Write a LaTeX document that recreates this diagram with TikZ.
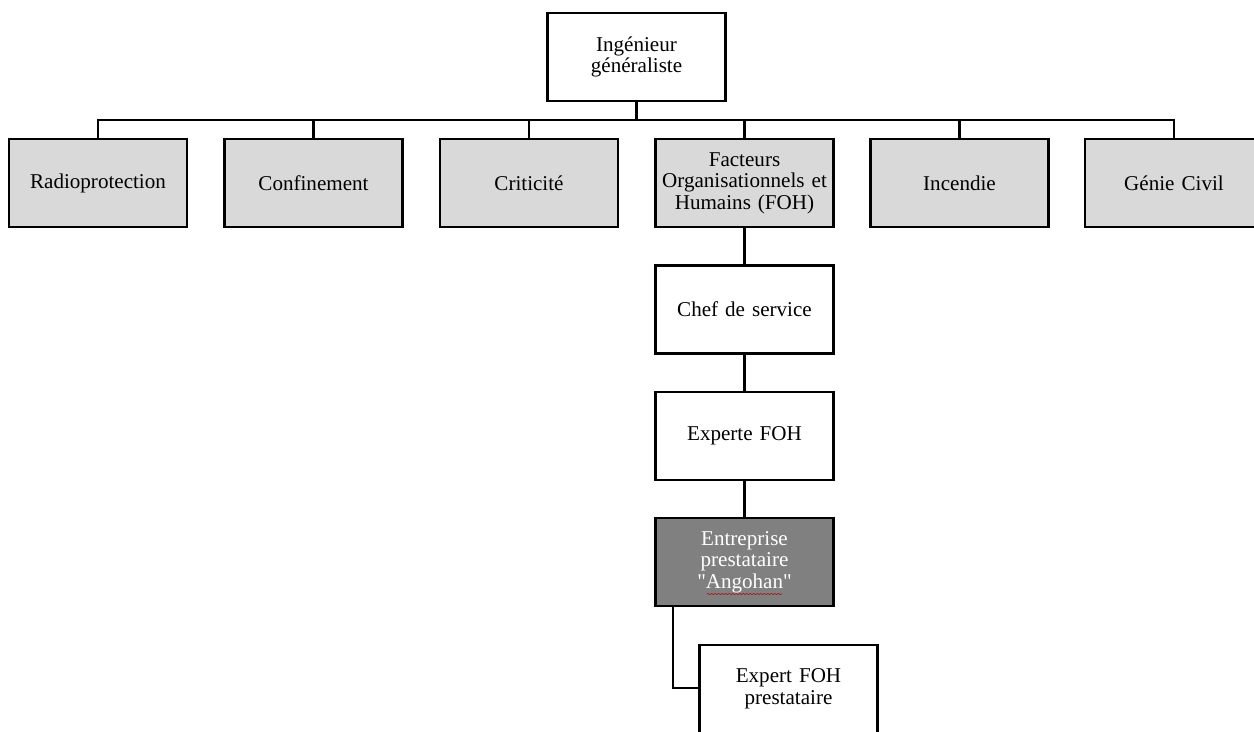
\documentclass[tikz,border=0pt]{standalone}
\usepackage{fontspec}
\setmainfont{Liberation Serif}[Ligatures=TeXOff]
\usetikzlibrary{decorations.pathmorphing}
\tikzset{
  boite/.style={draw=black, line width=1.25pt, minimum width=3.56cm, minimum height=1.76cm,
    inner sep=0pt, align=center, text width=3.4cm, font=\fontsize{12}{12.3}\selectfont},
  domaine/.style={boite, fill=gray!30},
  presta/.style={boite, fill=black!50, text=white},
  lien/.style={line width=1.25pt}
}
\begin{document}
\begin{tikzpicture}[x=0.02cm, y=-0.02cm]
				%%%%% CADRE %%%%%
				\clip (0, 0) rectangle (1254, 731);
				\fill[white] (0, 0) rectangle (1254, 731);
				
				\node[boite] (ing) at (636.5, 57) {Ingénieur\\généraliste};
				
				\node[domaine] (radio) at (98, 183) {Radioprotection};
				\node[domaine] (conf) at (313.5, 183) {Confinement};
				\node[domaine] (crit) at (529, 183) {Criticité};
				\node[domaine] (foh) at (744.5, 183) {Facteurs\\Organisationnels et\\Humains (FOH)};
				\node[domaine] (inc) at (959.5, 183) {Incendie};
				\node[domaine] (gc) at (1174, 183) {Génie Civil};
				
				\coordinate (bus) at (636.5, 120);
				\draw[lien] (ing.south) -- (bus);
				\draw[lien] (radio.north) |- (gc.north |- bus) -- (gc.north);
				\foreach \n in {conf, crit, foh, inc}
					\draw[lien] (\n.north) -- (\n.north |- bus);
				
				\node[boite] (chef) at (744.5, 309.5) {Chef de service};
				\node[boite] (experte) at (744.5, 436) {Experte FOH};
				\node[presta] (entr) at (744.5, 562) {Entreprise\\prestataire\\"Angohan"};
				\node[boite] (expert) at (788.5, 689) {Expert FOH\\prestataire};
				
				\draw[lien] (foh.south) -- (chef.north);
				\draw[lien] (chef.south) -- (experte.north);
				\draw[lien] (experte.south) -- (entr.north);
				\coordinate (coude) at (673, 688);
				\draw[lien] (entr.south -| coude) -- (coude) -- (expert.west |- coude);
				
				% soulignement rouge
				\draw[red!70!black, line width=0.3pt, decorate,
					decoration={snake, amplitude=0.3pt, segment length=2pt}]
					(707, 594) -- (782, 594);
				%%%%% FIN %%%%%
\end{tikzpicture}
\end{document}
